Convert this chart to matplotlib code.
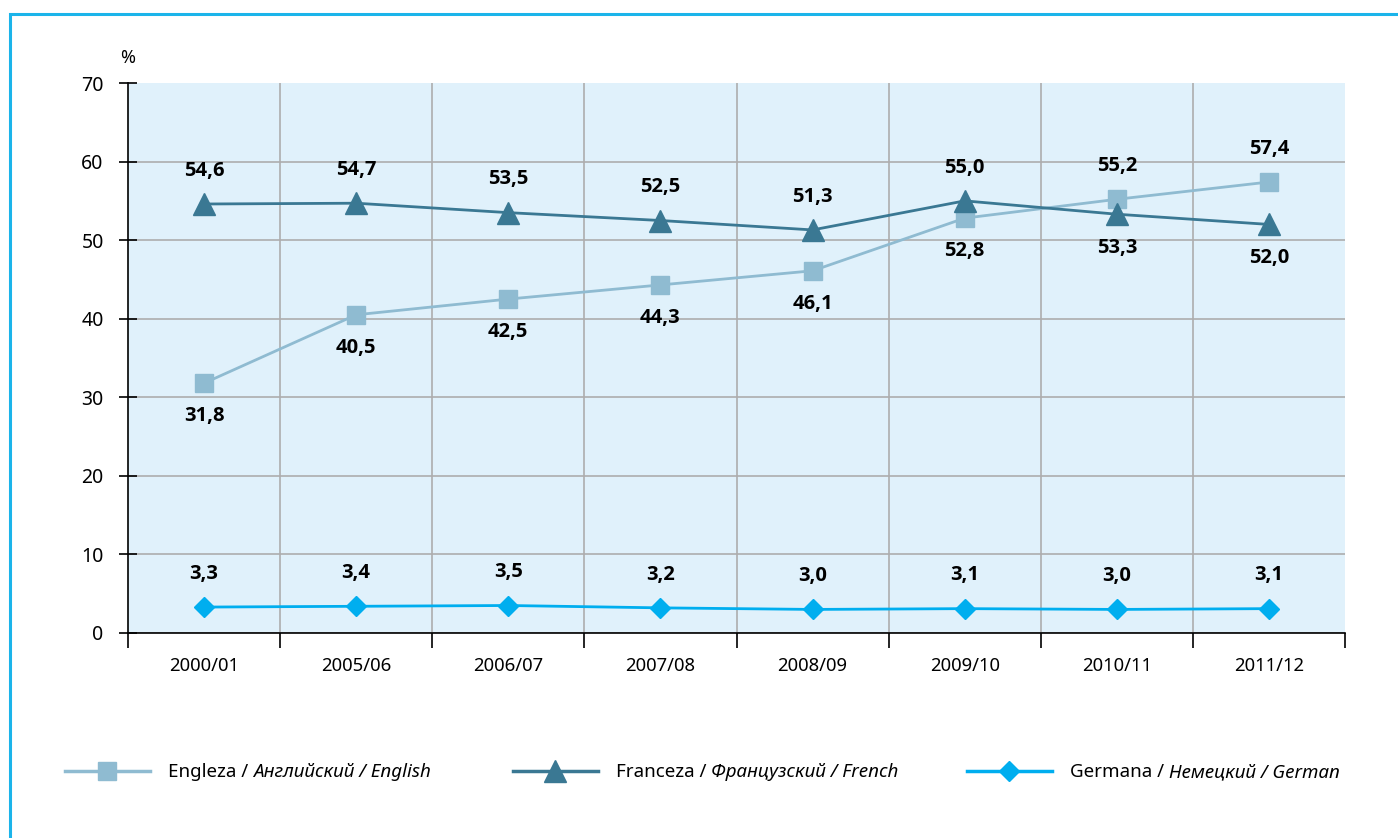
import matplotlib
matplotlib.use("Agg")
import matplotlib.pyplot as plt
from matplotlib.lines import Line2D
from matplotlib.patches import Rectangle

plt.rcParams["font.family"] = ["Noto Sans", "DejaVu Sans"]
BOLD_FAMILY = ["Open Sans", "Lato", "DejaVu Sans"]

years = ["2000/01", "2005/06", "2006/07", "2007/08", "2008/09", "2009/10", "2010/11", "2011/12"]
english = [31.8, 40.5, 42.5, 44.3, 46.1, 52.8, 55.2, 57.4]
french = [54.6, 54.7, 53.5, 52.5, 51.3, 55.0, 53.3, 52.0]
german = [3.3, 3.4, 3.5, 3.2, 3.0, 3.1, 3.0, 3.1]
# label above (+1) or below (-1) the point
english_side = [-1, -1, -1, -1, -1, -1, 1, 1]
french_side = [1, 1, 1, 1, 1, 1, -1, -1]
german_side = [1] * 8

legend_regular = ["Engleza / ", "Franceza / ", "Germana / "]
legend_italic = ["Английский / English", "Французский / French", "Немецкий / German"]

c_en, c_fr, c_de = "#8fbbd1", "#3a7893", "#00aeef"
styles = [(english, english_side, c_en, "s", 13.5),
          (french, french_side, c_fr, "^", 16),
          (german, german_side, c_de, "D", 10.5)]

fig = plt.figure(figsize=(13.98, 8.38), dpi=100)
fig.add_artist(Rectangle((9.5 / 1398, -0.05), 1.1, (838 - 14) / 838 + 0.05,
                         transform=fig.transFigure, fill=False, ec="#1bb4ea", lw=2.2))
ax = fig.add_axes([128 / 1398, 1 - 633 / 838, (1345 - 128) / 1398, (633 - 83) / 838])
ax.set_facecolor("#e0f1fb")

x = list(range(len(years)))
for vals, side, col, mk, ms in styles:
    ax.plot(x, vals, color=col, lw=2, marker=mk, ms=ms, mec=col, mfc=col, zorder=3)
    for xi, v, s in zip(x, vals, side):
        ax.annotate(f"{v:.1f}".replace(".", ","), (xi, v), xytext=(0, 24 * s),
                    textcoords="offset points", ha="center", va="center",
                    fontsize=14.5, fontweight="bold", family=BOLD_FAMILY,
                    color="black", zorder=4)

ax.set_xlim(-0.5, len(years) - 0.5)
ax.set_ylim(0, 70)
ax.set_yticks(range(0, 71, 10))
ax.set_xticks([i - 0.5 for i in range(len(years) + 1)])
ax.set_xticklabels([])
ax.set_xticks(x, minor=True)
ax.set_xticklabels(years, minor=True)
ax.tick_params(axis="x", which="major", direction="out", length=11, width=1.2, color="black")
ax.tick_params(axis="x", which="minor", length=0, pad=17, labelsize=13.3)
ax.tick_params(axis="y", direction="inout", length=13, width=1.2, labelsize=14, pad=11)
ax.grid(True, which="major", color="#adadad", lw=1.2)
ax.yaxis.get_gridlines()[-1].set_visible(False)
for gl in (ax.xaxis.get_gridlines()[0], ax.xaxis.get_gridlines()[-1]):
    gl.set_visible(False)
ax.set_axisbelow(True)
for s in ("top", "right"):
    ax.spines[s].set_visible(False)
for s in ("left", "bottom"):
    ax.spines[s].set_linewidth(1.2)
ax.text(0, 1.045, "%", transform=ax.transAxes, ha="center", va="center", fontsize=13)

# legend built by hand: mixed upright / italic text
renderer = fig.canvas.get_renderer()
leg_y = 1 - 771 / 838
base_y = 1 - 777 / 838
line_x = [65, 513, 967]
for (vals, side, col, mk, ms), lx, reg, ital in zip(styles, line_x, legend_regular, legend_italic):
    fig.add_artist(Line2D([lx / 1398, (lx + 85) / 1398], [leg_y, leg_y], color=col, lw=2.5))
    fig.add_artist(Line2D([(lx + 42) / 1398], [leg_y], marker=mk, ms=ms, color=col, ls="none"))
    t = fig.text((lx + 103) / 1398, base_y, reg, fontsize=13.5, va="baseline", ha="left")
    w = t.get_window_extent(renderer).width
    fig.text((lx + 103 + w) / 1398, base_y, ital, fontsize=13.5, style="italic",
             va="baseline", ha="left")

fig.savefig("out.png", dpi=100)
